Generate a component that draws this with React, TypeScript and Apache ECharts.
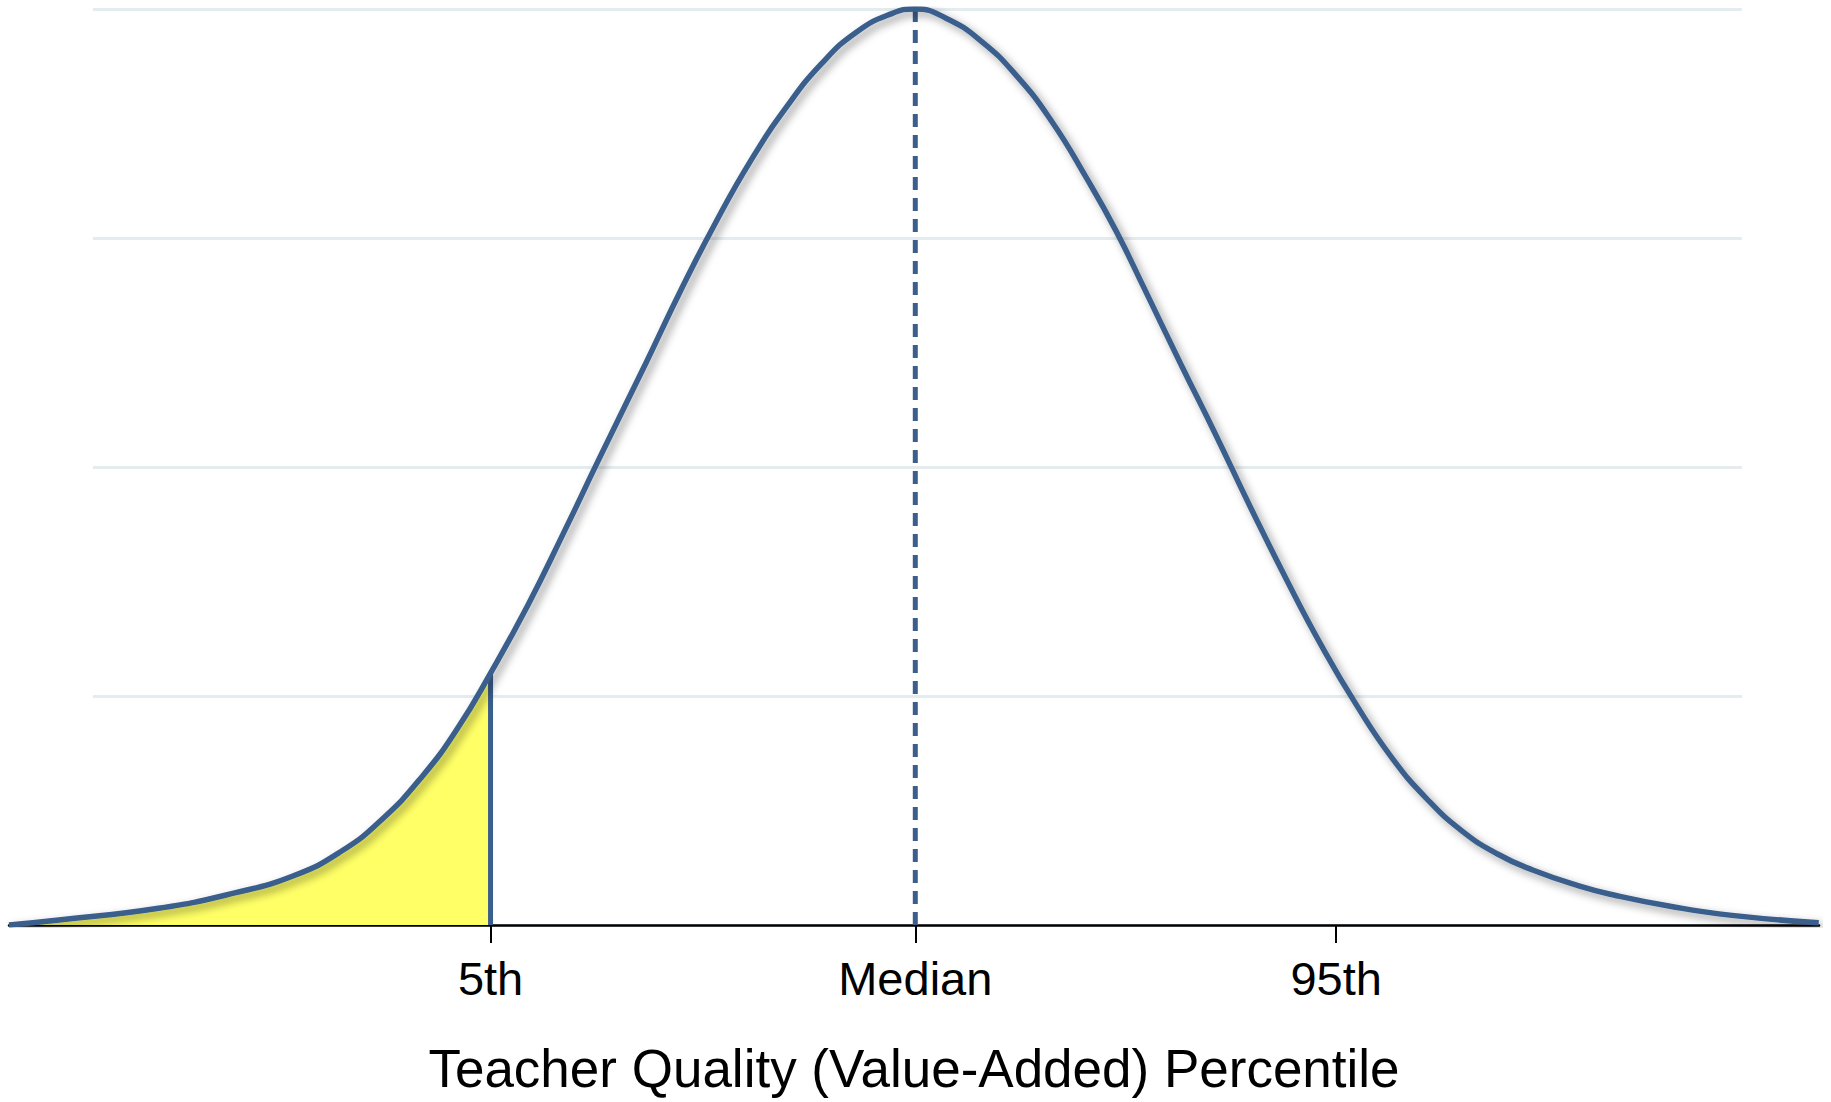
import React, { useEffect, useRef } from "react";
import * as echarts from "echarts";

// Curve: x in standard-deviation units, y in gridline levels (0..4)
const CURVE_X = [
  -3.51, -3.317, -2.931, -2.636, -2.408, -2.226, -2.067, -1.909, -1.772, -1.645,
  -1.499, -1.363, -1.227, -1.045, -0.909, -0.772, -0.636, -0.5, -0.364, -0.227,
  -0.091, 0, 0.119, 0.255, 0.391, 0.528, 0.664, 0.778, 0.891, 1.028, 1.164, 1.3,
  1.437, 1.573, 1.709, 1.846, 1.982, 2.118, 2.255, 2.391, 2.573, 2.709, 2.913,
  3.163, 3.499,
];
const CURVE_Y = [
  0, 0.022, 0.073, 0.14, 0.215, 0.32, 0.46, 0.65, 0.86, 1.1,
  1.4, 1.71, 2.03, 2.45, 2.77, 3.07, 3.34, 3.57, 3.76, 3.9,
  3.98, 4.0, 3.96, 3.86, 3.71, 3.51, 3.26, 3.03, 2.77, 2.45, 2.14, 1.82,
  1.51, 1.22, 0.96, 0.73, 0.55, 0.41, 0.31, 0.24, 0.17, 0.13, 0.084,
  0.042, 0.01,
];
const TICK_VALUES = [-1.645, 0, 1.63];
const TICK_LABELS = ["5th", "Median", "95th"];
const AXIS_TITLE = "Teacher Quality (Value-Added) Percentile";
const FIFTH_X = -1.645;
const FIFTH_Y = 1.1;
const MEDIAN_X = 0;
const PEAK_Y = 4;

const BLUE = "#3b5e8c";
const FONT = "'Liberation Sans', Arial, Helvetica, sans-serif";

export default function App() {
  const ref = useRef<HTMLDivElement>(null);
  useEffect(() => {
    if (!ref.current) return;
    const chart = echarts.init(ref.current, null, { renderer: "svg" });
    const curve = CURVE_X.map((x, i) => [x, CURVE_Y[i]]);
    const fifthIdx = CURVE_X.indexOf(FIFTH_X);
    const tail = curve.slice(0, fifthIdx + 1);
    const shadow = {
      shadowColor: "rgba(0,0,0,0.4)",
      shadowBlur: 8,
      shadowOffsetX: 4,
      shadowOffsetY: 4,
    };
    chart.setOption({
      animation: false,
      backgroundColor: "#ffffff",
      grid: [
        { left: 9, right: 12, top: 9, bottom: 177 },
        { left: 93, right: 89, top: 9, bottom: 177 },
      ],
      xAxis: [
        {
          type: "value",
          gridIndex: 0,
          min: -3.51,
          max: 3.5,
          splitLine: { show: false },
          axisLine: { show: true, onZero: false, lineStyle: { color: "#000", width: 2.5 } },
          axisTick: {
            show: true,
            customValues: TICK_VALUES,
            length: 18,
            lineStyle: { color: "#000", width: 2 },
          },
          axisLabel: {
            show: true,
            customValues: TICK_VALUES,
            margin: 30,
            fontSize: 47,
            color: "#000",
            fontFamily: FONT,
            formatter: (v: number) => {
              let best = 0;
              TICK_VALUES.forEach((t, i) => {
                if (Math.abs(t - v) < Math.abs(TICK_VALUES[best] - v)) best = i;
              });
              return TICK_LABELS[best];
            },
          },
          name: AXIS_TITLE,
          nameLocation: "middle",
          nameGap: 117,
          nameTextStyle: { fontSize: 53, color: "#000", fontFamily: FONT },
        },
        {
          type: "value",
          gridIndex: 1,
          min: 0,
          max: 1,
          show: false,
        },
      ],
      yAxis: [
        {
          type: "value",
          gridIndex: 0,
          min: 0,
          max: 4,
          interval: 1,
          show: false,
          splitLine: { show: false },
        },
        {
          type: "value",
          gridIndex: 1,
          min: 0,
          max: 4,
          interval: 1,
          axisLine: { show: false },
          axisTick: { show: false },
          axisLabel: { show: false },
          splitLine: { show: true, lineStyle: { color: "#e4ecef", width: 3 } },
        },
      ],
      series: [
        {
          type: "line",
          xAxisIndex: 0,
          yAxisIndex: 0,
          data: tail,
          smooth: 0.5,
          showSymbol: false,
          lineStyle: { width: 0, opacity: 0 },
          areaStyle: { color: "#ffff66", opacity: 1 },
          z: 2,
        },
        {
          type: "line",
          xAxisIndex: 0,
          yAxisIndex: 0,
          data: [
            [FIFTH_X, 0],
            [FIFTH_X, FIFTH_Y],
          ],
          showSymbol: false,
          lineStyle: { color: BLUE, width: 5 },
          z: 3,
        },
        {
          type: "line",
          xAxisIndex: 0,
          yAxisIndex: 0,
          data: [
            [MEDIAN_X, 0],
            [MEDIAN_X, PEAK_Y],
          ],
          showSymbol: false,
          lineStyle: { color: BLUE, width: 5, type: [13, 8] },
          z: 3,
        },
        {
          type: "line",
          xAxisIndex: 0,
          yAxisIndex: 0,
          data: curve,
          smooth: 0.5,
          showSymbol: false,
          lineStyle: { color: BLUE, width: 5.5, ...shadow },
          z: 4,
        },
      ],
    });
    return () => chart.dispose();
  }, []);
  return (
    <div
      ref={ref}
      style={{ position: "fixed", left: 0, top: 0, width: 1831, height: 1102, background: "#fff" }}
    />
  );
}
